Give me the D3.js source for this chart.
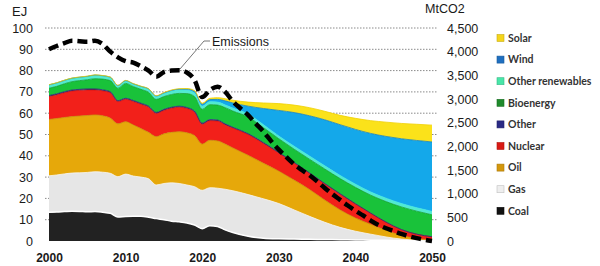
<!DOCTYPE html>
<html><head><meta charset="utf-8">
<script src="https://cdn.jsdelivr.net/npm/d3@7"></script>
<style>
html,body{margin:0;padding:0;background:#fff;}
svg{display:block;}
.ax text{font-family:"Liberation Sans",Arial,sans-serif;font-size:12.5px;fill:#1a1a1a;}
</style></head>
<body><svg id="c" width="600" height="266"></svg>
<script>
const years = [2000,2001,2002,2003,2004,2005,2006,2007,2008,2009,2010,2011,2012,2013,2014,2015,2016,2017,2018,2019,2020,2021,2022,2023,2024,2026,2028,2030,2032,2034,2036,2038,2040,2042,2044,2046,2048,2050];
const coal    = [13.5,13.6,13.8,14.0,13.9,13.7,13.8,13.5,13.0,11.3,11.5,11.6,11.6,11.2,10.5,10.0,9.3,9.0,8.5,7.5,5.8,7.2,6.8,5.2,4.0,2.2,1.3,1.0,0.9,0.8,0.7,0.6,0.5,0.4,0.3,0.2,0.1,0.0];
const gas     = [17.1,17.4,17.7,17.9,18.1,18.5,18.7,18.8,18.8,18.9,19.9,18.9,18.4,18.0,15.8,17.0,18.0,18.0,17.8,18.0,18.0,17.8,18.0,19.1,19.6,19.6,18.5,16.6,13.7,10.8,8.1,5.8,4.1,2.8,1.6,0.7,0.3,0.1];
const oil     = [26.5,26.5,26.5,26.5,26.7,26.7,26.7,26.5,25.9,24.8,24.6,24.0,22.8,21.8,22.7,23.3,23.7,24.3,24.5,24.0,21.7,22.3,22.2,21.2,20.1,18.4,16.7,15.2,14.0,12.6,10.4,8.2,6.2,4.6,3.1,1.7,0.8,0.3];
const nuclear = [10.7,11.1,11.6,12.0,12.0,12.0,11.7,11.7,11.9,10.4,10.5,11.0,11.4,11.8,10.9,11.0,11.3,11.5,11.4,11.0,9.3,9.2,9.3,9.0,9.3,9.8,9.3,8.5,8.0,7.6,7.6,7.4,6.6,5.2,3.8,2.7,2.0,1.6];
const other   = [0.5,0.5,0.5,0.5,0.5,0.5,0.5,0.5,0.5,0.5,0.5,0.5,0.5,0.5,0.5,0.5,0.5,0.5,0.5,0.5,0.5,0.5,0.5,0.5,0.4,0.4,0.4,0.3,0.3,0.2,0.2,0.2,0.1,0.1,0.1,0.1,0.0,0.0];
const bioenergy = [3.4,3.5,3.7,3.9,4.1,4.3,4.8,5.0,5.2,5.8,7.0,6.5,6.5,6.5,6.1,6.0,6.0,6.0,6.5,6.8,6.5,7.0,7.0,7.6,7.6,7.8,7.0,6.4,6.2,6.4,6.8,7.1,7.7,8.4,9.6,10.6,10.8,10.3];
const otherRenewables = [1.6,1.6,1.6,1.6,1.5,1.5,1.6,1.5,1.5,1.1,1.1,1.1,1.2,1.4,1.3,1.4,1.6,1.6,1.6,1.7,1.5,1.4,1.4,1.3,1.4,1.4,1.4,1.3,1.4,1.5,1.5,1.5,1.5,1.5,1.6,1.6,1.6,1.6];
const wind    = [0.0,0.0,0.0,0.0,0.1,0.1,0.1,0.1,0.1,0.2,0.2,0.2,0.2,0.2,0.3,0.3,0.3,0.4,0.5,0.7,0.9,1.0,1.3,1.9,2.4,3.7,7.6,12.0,15.8,18.9,21.6,23.8,25.7,27.5,29.0,30.4,31.6,32.6];
const solar   = [0.1,0.1,0.1,0.1,0.1,0.1,0.1,0.1,0.1,0.1,0.1,0.1,0.1,0.1,0.1,0.2,0.2,0.2,0.3,0.4,0.5,0.6,0.8,1.0,1.3,1.9,2.6,3.2,3.5,3.8,4.0,4.4,5.2,6.0,6.7,7.2,7.6,7.9];
const emissionYears = [2000,2001,2002,2003,2004,2005,2006,2007,2008,2009,2010,2011,2012,2013,2014,2015,2016,2017,2018,2019,2020,2021,2022,2023,2024,2025,2026,2027,2028,2029,2030,2031,2032,2033,2034,2035,2036,2037,2038,2039,2040,2041,2042,2043,2044,2045,2046,2047,2048,2049,2050];
const emissions = [4050,4120,4180,4230,4220,4210,4230,4160,4000,3880,3800,3770,3690,3600,3470,3570,3600,3610,3560,3400,3040,3190,3260,3150,2950,2800,2660,2480,2310,2110,1930,1770,1620,1500,1390,1260,1120,990,870,750,640,540,430,340,270,210,150,100,60,25,0];
const seriesNames = ["Coal","Gas","Oil","Nuclear","Other","Bioenergy","Other renewables","Wind","Solar"];
const seriesColors = ["#222222","#e6e6e6","#e6a80a","#f2201a","#2c2a78","#19c23a","#52ead0","#14a8ea","#fbe21a"];
const legendColors = ["#111111","#eeeeee","#d4970c","#d91a14","#2a2a85","#1f8a2c","#48e6a8","#1f6fc0","#f5d51a"];
const leftTicks = [0,10,20,30,40,50,60,70,80,90,100];
const rightTicks = [0,500,1000,1500,2000,2500,3000,3500,4000,4500];
const xTicks = [2000,2010,2020,2030,2040,2050];

const seriesData = [coal,gas,oil,nuclear,other,bioenergy,otherRenewables,wind,solar];
const table = years.map((yr,i)=>{const r={year:yr}; seriesNames.forEach((n,j)=>r[n]=seriesData[j][i]); return r;});

const svg = d3.select("#c");
const x = d3.scaleLinear().domain([2000,2050]).range([49,432]);
const y = d3.scaleLinear().domain([0,100]).range([241,28]);
const y2 = d3.scaleLinear().domain([0,4500]).range([241,28]);

// gridlines
svg.append("g").selectAll("line").data(leftTicks.filter(d=>d>0)).join("line")
  .attr("x1",45).attr("x2",437).attr("y1",d=>y(d)).attr("y2",d=>y(d))
  .attr("stroke","#8a8a8a").attr("stroke-width",1).attr("stroke-dasharray","1.5,1.5");

const stack = d3.stack().keys(seriesNames)(table);
const area = d3.area().x(d=>x(d.data.year)).y0(d=>y(d[0])).y1(d=>y(d[1])).curve(d3.curveMonotoneX);
const topLine = d3.line().x(d=>x(d.data.year)).y(d=>y(d[1])).curve(d3.curveMonotoneX);
svg.append("g").selectAll("path").data(stack).join("path")
  .attr("d",area).attr("fill",(d,i)=>seriesColors[i]);
const edgeColors = ["#ffffff","#f5f5f5","#c89000","#d01010","#2c2a78","#10a030","#40e8e0","#1080c0","#f0d000"];
svg.append("g").selectAll("path").data(stack).join("path")
  .attr("d",topLine).attr("fill","none").attr("stroke",(d,i)=>edgeColors[i])
  .attr("stroke-width",(d,i)=>i===0?1.5:0.8);

// emissions line
const eLine = d3.line().x((d,i)=>x(emissionYears[i])).y(d=>y2(d)).curve(d3.curveMonotoneX);
svg.append("path").datum(emissions).attr("d",eLine).attr("fill","none")
  .attr("stroke","#000").attr("stroke-width",4.5).attr("stroke-dasharray","10,5");

// axes
const gl = svg.append("g").attr("class","ax").attr("transform","translate(36,0)")
  .call(d3.axisLeft(y).tickValues(leftTicks).tickSize(0).tickPadding(3));
gl.select(".domain").remove();
const gb = svg.append("g").attr("class","ax").attr("transform","translate(0,241)")
  .call(d3.axisBottom(x).tickValues(xTicks).tickFormat(d3.format("d")).tickSize(0).tickPadding(12));
gb.select(".domain").remove();
gb.selectAll("text").style("font-weight","bold").style("font-size","12px");
const gr = svg.append("g").attr("class","ax").attr("transform","translate(444,0)")
  .call(d3.axisRight(y2).tickValues(rightTicks).tickFormat(d3.format(",")).tickSize(0).tickPadding(3));
gr.select(".domain").remove();
gl.selectAll("text").style("font-size","12.5px");

svg.append("text").attr("x",12).attr("y",16).text("EJ")
  .attr("font-family","Liberation Sans,Arial,sans-serif").attr("font-size","13px").attr("fill","#1a1a1a");
svg.append("text").attr("x",425).attr("y",13).text("MtCO2")
  .attr("font-family","Liberation Sans,Arial,sans-serif").attr("font-size","12.5px").attr("fill","#1a1a1a");

// annotation
svg.append("polyline").attr("points","180,69 204,41 210,41").attr("fill","none").attr("stroke","#777").attr("stroke-width",1);
svg.append("text").attr("x",212).attr("y",45.5).text("Emissions")
  .attr("font-family","Liberation Sans,Arial,sans-serif").attr("font-size","12.5px").attr("fill","#1a1a1a");

// legend
const legendOrder = seriesNames.map((n,i)=>i).reverse();
const ly = d3.scaleLinear().domain([0,8]).range([38,210.8]);
const lg = svg.append("g").selectAll("g").data(legendOrder).join("g")
  .attr("transform",(d,k)=>`translate(497,${ly(k)})`);
lg.append("rect").attr("x",0).attr("y",-3.5).attr("width",7).attr("height",7)
  .attr("fill",d=>legendColors[d]).attr("stroke",d=>d3.color(legendColors[d]).darker(0.6)).attr("stroke-width",0.6);
lg.append("text").attr("x",11).attr("y",3.8).text(d=>seriesNames[d])
  .attr("font-family","Lato,sans-serif").attr("font-weight","bold").attr("font-size","10.5px").attr("fill","#333");
</script></body></html>
